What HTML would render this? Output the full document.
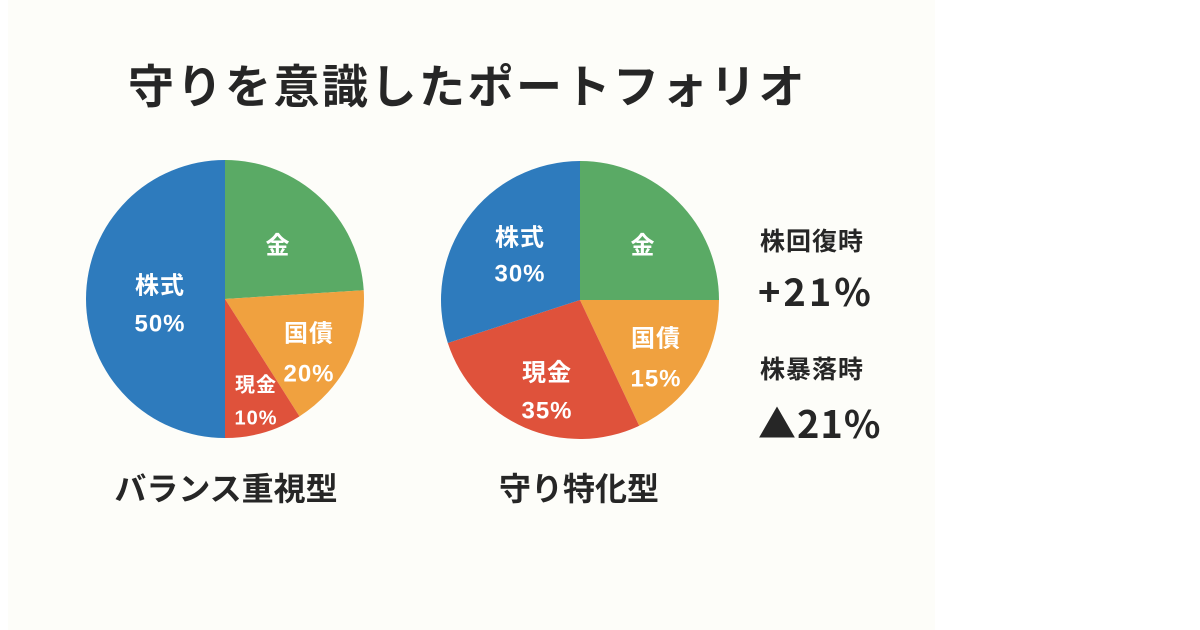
<!DOCTYPE html>
<html><head><meta charset="utf-8"><style>
body{margin:0;width:1200px;height:630px;background:#fff;overflow:hidden;font-family:"Liberation Sans","Noto Sans CJK JP",sans-serif;}
#panel{position:absolute;left:8px;top:0;width:927px;height:630px;background:#fdfdf9;}
svg{position:absolute;left:0;top:0}
</style></head><body>
<div id="panel"></div>
<svg id="chart" width="1200" height="630">
<text x="128" y="103" font-size="46" font-weight="bold" fill="#262626" letter-spacing="2.5" font-family="Noto Sans CJK JP, sans-serif">守りを意識したポートフォリオ</text>
<text x="226" y="500" font-size="32" font-weight="bold" fill="#262626" text-anchor="middle" font-family="Noto Sans CJK JP, sans-serif">バランス重視型</text>
<text x="579" y="500" font-size="32" font-weight="bold" fill="#262626" text-anchor="middle" font-family="Noto Sans CJK JP, sans-serif">守り特化型</text>
<text x="760" y="250" font-size="25" font-weight="bold" fill="#262626" letter-spacing="1" font-family="Noto Sans CJK JP, sans-serif">株回復時</text>
<text x="758" y="306" font-size="38" font-weight="bold" fill="#262626" letter-spacing="3" font-family="Noto Sans CJK JP, sans-serif">+21%</text>
<text x="760" y="378" font-size="25" font-weight="bold" fill="#262626" letter-spacing="1" font-family="Noto Sans CJK JP, sans-serif">株暴落時</text>
<text x="758" y="438" font-size="38" font-weight="bold" fill="#262626" letter-spacing="1" font-family="Noto Sans CJK JP, sans-serif">▲21%</text>
</svg>
<script>
// Pie 1 (slice shares as drawn, clockwise from top)
const pie1Names = ["金","国債","現金","株式"];
const pie1Values = [24,17,9,50];
const pie1Labels = [["金"],["国債","20%"],["現金","10%"]," 株式 50%".trim().split(" ")];
// Pie 2
const pie2Names = ["金","国債","現金","株式"];
const pie2Values = [25,18,27,30];
const pie2Labels = [["金"],["国債","15%"],["現金","35%"],["株式","30%"]];
const colors = ["#5aaa65","#f0a13f","#df523b","#2e7bbd"];
const NS="http://www.w3.org/2000/svg";
const svg=document.getElementById('chart');
function pt(cx,cy,r,a){return [cx+r*Math.sin(a),cy-r*Math.cos(a)];}
// label placement: [centerX, centerY, lineGap, fontSize]
const pie1LabelPlace=[[278,245,0,24],[309,353,40,24],[256,401,33,20],[160,304,38,24]];
const pie2LabelPlace=[[643,245,0,24],[656,358,40,24],[547,391,38,24],[520,255,36,24]];
function drawPie(id,cx,cy,r,names,vals,labels,place){
  const tot=vals.reduce((a,b)=>a+b,0);let a0=0;
  vals.forEach((v,i)=>{
    const a1=a0+v/tot*2*Math.PI;
    const p0=pt(cx,cy,r,a0),p1=pt(cx,cy,r,a1);
    const path=document.createElementNS(NS,'path');
    path.setAttribute('d',`M${cx},${cy}L${p0[0]},${p0[1]}A${r},${r} 0 ${a1-a0>Math.PI?1:0} 1 ${p1[0]},${p1[1]}Z`);
    path.setAttribute('fill',colors[i]);
    
    
    svg.appendChild(path);
    const lines=labels[i];const pl=place[i];const f=pl[3];
    lines.forEach((s,j)=>{
      const t=document.createElementNS(NS,'text');
      t.setAttribute('x',pl[0]);
      t.setAttribute('y',pl[1]+(j-(lines.length-1)/2)*pl[2]+f*0.36);
      t.setAttribute('text-anchor','middle');t.setAttribute('fill','#fff');
      t.setAttribute('font-size',f);t.setAttribute('font-weight','bold');
      t.setAttribute('letter-spacing','1');
      t.textContent=s;
      
      
      svg.appendChild(t);
    });
    a0=a1;
  });
}
drawPie('pie1',225,299,139,pie1Names,pie1Values,pie1Labels,pie1LabelPlace);
drawPie('pie2',580,300,139,pie2Names,pie2Values,pie2Labels,pie2LabelPlace);
</script>
</body></html>
